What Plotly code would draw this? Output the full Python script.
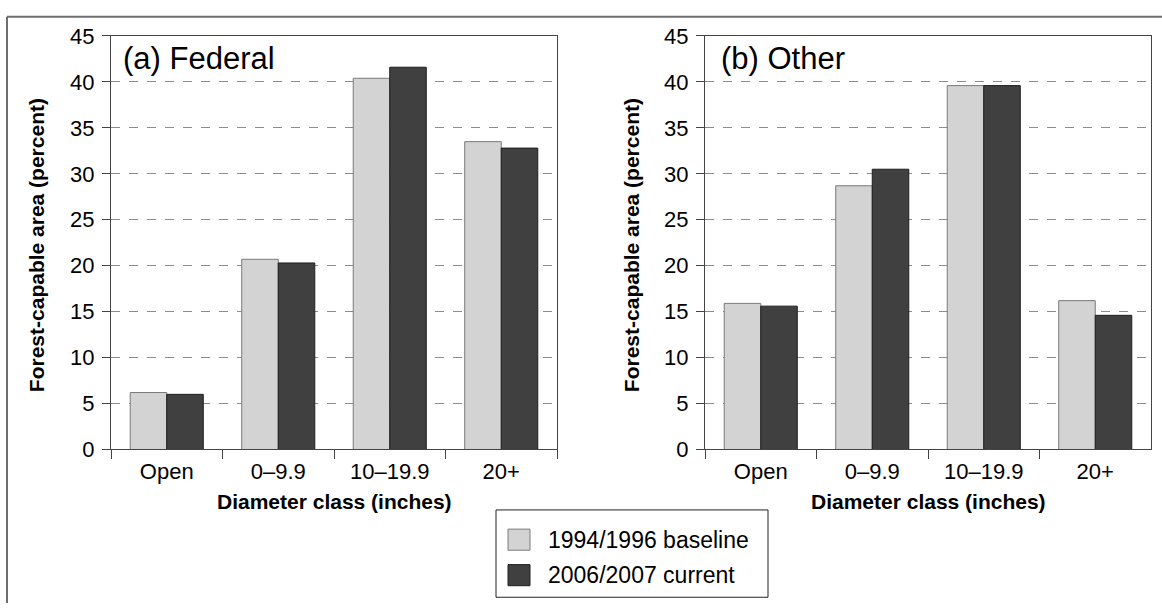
import plotly.graph_objects as go

W, H = 1162, 616

categories = ["Open", "0\u20139.9", "10\u201319.9", "20+"]
federal_baseline = [6.2, 20.7, 40.4, 33.5]
federal_current = [6.0, 20.3, 41.6, 32.8]
other_baseline = [15.9, 28.7, 39.6, 16.2]
other_current = [15.6, 30.5, 39.6, 14.6]
series_names = ["1994/1996 baseline", "2006/2007 current"]
panel_labels = ["(a) Federal", "(b) Other"]
y_title = "Forest-capable area (percent)"
x_title = "Diameter class (inches)"

LIGHT, LIGHT_LINE = "#d3d3d3", "#7a7a7a"
DARK, DARK_LINE = "#404040", "#1e1e1e"
FONT = "Liberation Sans, Arial, sans-serif"


def px(x):
    return x / W


def py(y):
    return 1 - y / H


fig = go.Figure()
for i, (b, c) in enumerate([(federal_baseline, federal_current), (other_baseline, other_current)]):
    xa = "x" if i == 0 else "x2"
    ya = "y" if i == 0 else "y2"
    fig.add_trace(go.Bar(x=categories, y=b, name=series_names[0], xaxis=xa, yaxis=ya,
                         marker=dict(color=LIGHT, line=dict(color=LIGHT_LINE, width=1)),
                         showlegend=False))
    fig.add_trace(go.Bar(x=categories, y=c, name=series_names[1], xaxis=xa, yaxis=ya,
                         marker=dict(color=DARK, line=dict(color=DARK_LINE, width=1)),
                         showlegend=False))

ydom = [py(456), py(25)]
axis_common_x = dict(type="category", tickson="boundaries", ticks="outside", ticklen=9,
                     tickcolor="#444", showline=True, linecolor="#444", linewidth=1,
                     mirror=True, showgrid=False, tickfont=dict(size=22, color="black", family=FONT),
                     range=[-0.5, 3.5], ticklabelstandoff=2)
axis_common_y = dict(range=[0, 45], dtick=5, ticks="outside", ticklen=8, tickcolor="#444",
                     showline=True, linecolor="#444", linewidth=1, mirror=True,
                     showgrid=True, gridcolor="#8c8c8c", griddash="dash", gridwidth=1,
                     zeroline=False, tickfont=dict(size=22, color="black", family=FONT),
                     ticklabelstandoff=3)

fig.update_layout(
    width=W, height=H,
    margin=dict(l=0, r=0, t=0, b=0),
    paper_bgcolor="white", plot_bgcolor="white",
    barmode="group", bargap=0.345, bargroupgap=0,
    font=dict(family=FONT, color="black"),
    xaxis=dict(domain=[px(111), px(557)], anchor="y", **axis_common_x),
    yaxis=dict(domain=ydom, anchor="x", **axis_common_y),
    xaxis2=dict(domain=[px(705), px(1151)], anchor="y2", **axis_common_x),
    yaxis2=dict(domain=ydom, anchor="x2", **axis_common_y),
)

annotations = []
for cx, lbl, title_x, ycx in [(334, panel_labels[0], 121, 36), (928, panel_labels[1], 719, 631)]:
    annotations.append(dict(x=px(cx), y=py(510), xref="paper", yref="paper", text="<b>%s</b>" % x_title,
                            showarrow=False, font=dict(size=21, family=FONT, color="black"),
                            xanchor="center", yanchor="middle"))
    annotations.append(dict(x=px(title_x), y=py(48), xref="paper", yref="paper", text=lbl,
                            showarrow=False, font=dict(size=31, family=FONT, color="black"),
                            xanchor="left", yanchor="middle"))
    annotations.append(dict(x=px(ycx), y=py(243), xref="paper", yref="paper", text="<b>%s</b>" % y_title,
                            showarrow=False, textangle=-90, font=dict(size=21, family=FONT, color="black"),
                            xanchor="center", yanchor="middle"))

shapes = []
# outer border (left and top)
shapes.append(dict(type="line", xref="paper", yref="paper", x0=px(7), x1=px(7), y0=py(5), y1=py(616),
                   line=dict(color="#6e6e6e", width=2)))
shapes.append(dict(type="line", xref="paper", yref="paper", x0=px(7), x1=px(1162), y0=py(5), y1=py(5),
                   line=dict(color="#6e6e6e", width=2)))
# legend box
shapes.append(dict(type="rect", xref="paper", yref="paper", x0=px(496), x1=px(768), y0=py(610), y1=py(519),
                   line=dict(color="#222", width=1), fillcolor="white"))
for (yc, fill, lc, name) in [(550, LIGHT, LIGHT_LINE, series_names[0]), (587, DARK, DARK_LINE, series_names[1])]:
    shapes.append(dict(type="rect", xref="paper", yref="paper", x0=px(508), x1=px(530),
                       y0=py(yc + 11), y1=py(yc - 11), fillcolor=fill, line=dict(color=lc, width=1)))
    annotations.append(dict(x=px(546), y=py(yc), xref="paper", yref="paper", text=name,
                            showarrow=False, font=dict(size=23, family=FONT, color="black"),
                            xanchor="left", yanchor="middle"))

fig.update_layout(annotations=annotations, shapes=shapes)
fig.write_html("out.html")
